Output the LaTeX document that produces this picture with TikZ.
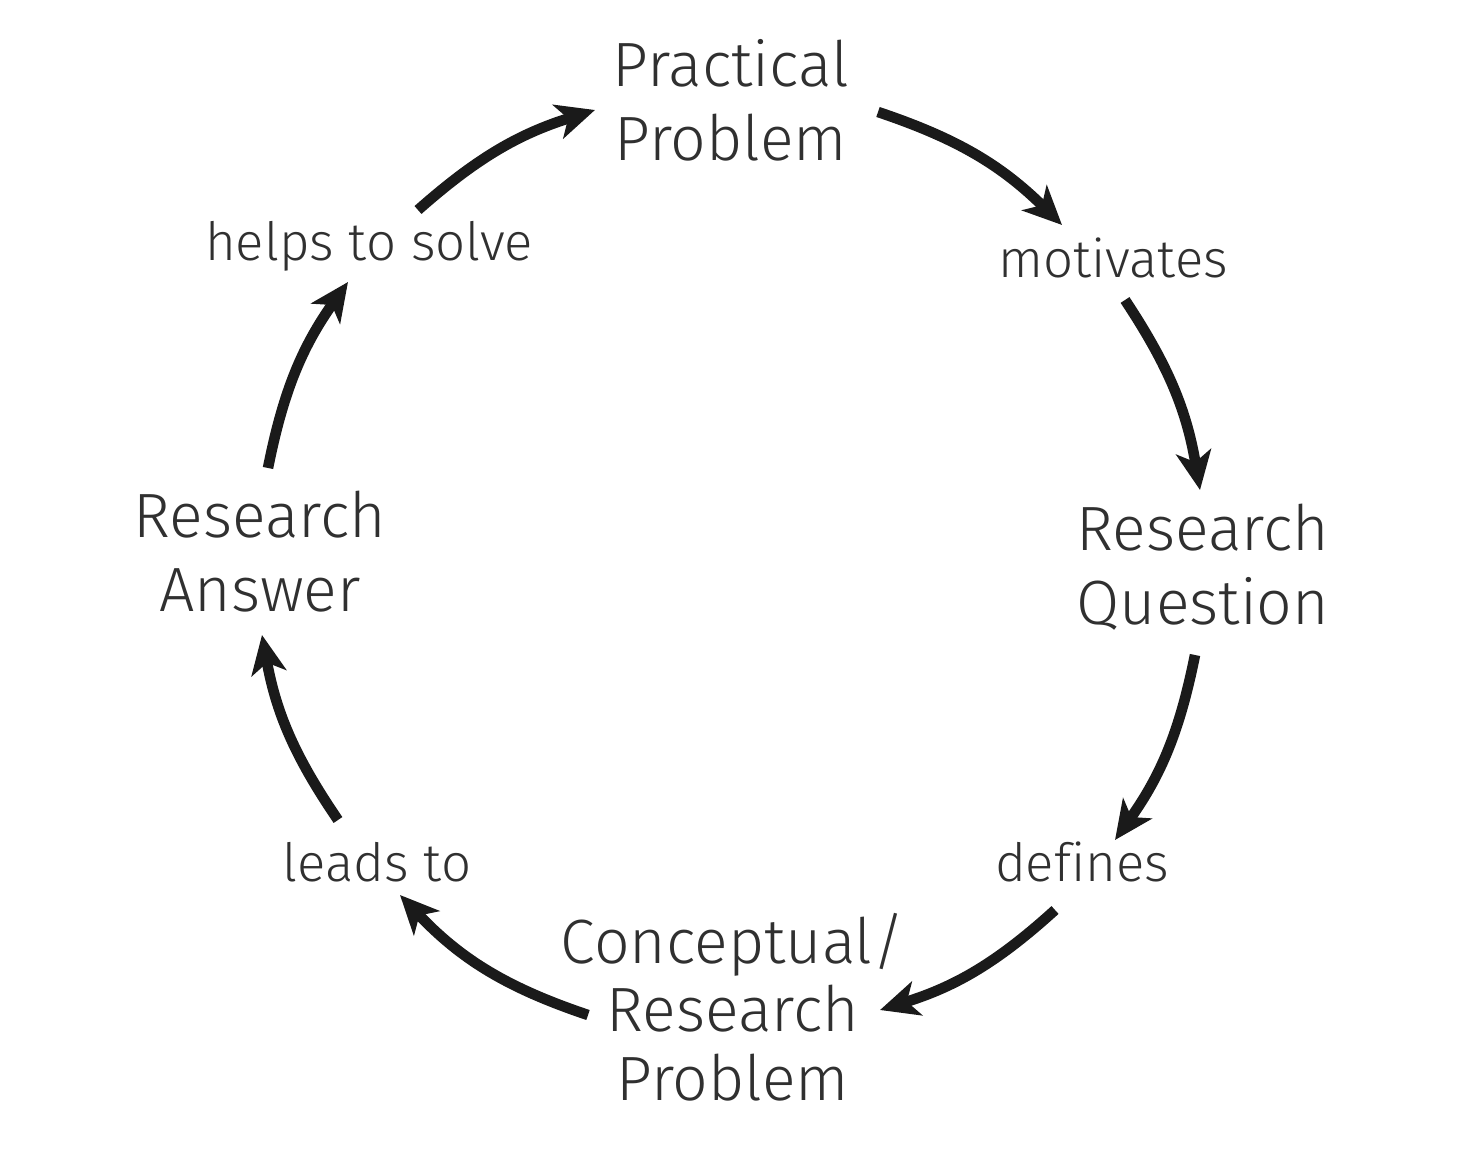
\documentclass[tikz,border=0pt]{standalone}
\usepackage{fontspec}
\setmainfont{Fira Sans}[UprightFont={* Light},Ligatures=CommonOff]
\usetikzlibrary{arrows.meta}
\definecolor{txt}{HTML}{303030}
\definecolor{arrc}{HTML}{1A1A1A}
\tikzset{
  big/.style={font=\fontsize{17.8}{21}\selectfont, align=center, text=txt, inner sep=0pt},
  lbl/.style={font=\fontsize{15}{18}\selectfont, text=txt, inner sep=0pt},
  arr/.style={line width=3pt, draw=arrc, -{Stealth[length=11pt,width=10pt,inset=3pt]}}
}
\begin{document}
\begin{tikzpicture}
\useasboundingbox[fill=white] (0,0) rectangle (14.84,-11.64);
% main nodes
\node[big] (pp) at (7.31,-1.00) {Practical\\Problem};
\node[big] (rq) at (12.03,-5.67) {Research\\Question};
\node[big, font=\fontsize{17.8}{19.5}\selectfont] (crp) at (7.33,-10.07) {Conceptual/\\Research\\Problem};
\node[big] (ra) at (2.60,-5.52) {Research\\Answer};
% labels
\node[lbl] (mot) at (11.13,-2.58) {motivates};
\node[lbl] (def) at (10.82,-8.62) {defines};
\node[lbl] (lead) at (3.77,-8.62) {leads to};
\node[lbl] (help) at (3.69,-2.46) {helps to solve};
% connector end points
\coordinate (s1) at (4.18,-2.10);  \coordinate (e1) at (5.95,-1.10);
\coordinate (s2) at (8.78,-1.12);  \coordinate (e2) at (10.62,-2.25);
\coordinate (s3) at (11.25,-3.00); \coordinate (e3) at (12.00,-4.90);
\coordinate (s4) at (11.95,-6.55); \coordinate (e4) at (11.15,-8.40);
\coordinate (s5) at (10.55,-9.10); \coordinate (e5) at (8.80,-10.10);
\coordinate (s6) at (5.88,-10.15); \coordinate (e6) at (4.00,-8.95);
\coordinate (s7) at (3.38,-8.20);  \coordinate (e7) at (2.62,-6.35);
\coordinate (s8) at (2.68,-4.68);  \coordinate (e8) at (3.48,-2.82);
% connectors
\draw[arr] (s1) to[bend left=12] (e1);
\draw[arr] (s2) to[bend left=13] (e2);
\draw[arr] (s3) to[bend left=12] (e3);
\draw[arr] (s4) to[bend left=12] (e4);
\draw[arr] (s5) to[bend left=12.5] (e5);
\draw[arr] (s6) to[bend left=14] (e6);
\draw[arr] (s7) to[bend left=12] (e7);
\draw[arr] (s8) to[bend left=12] (e8);
\end{tikzpicture}
\end{document}
